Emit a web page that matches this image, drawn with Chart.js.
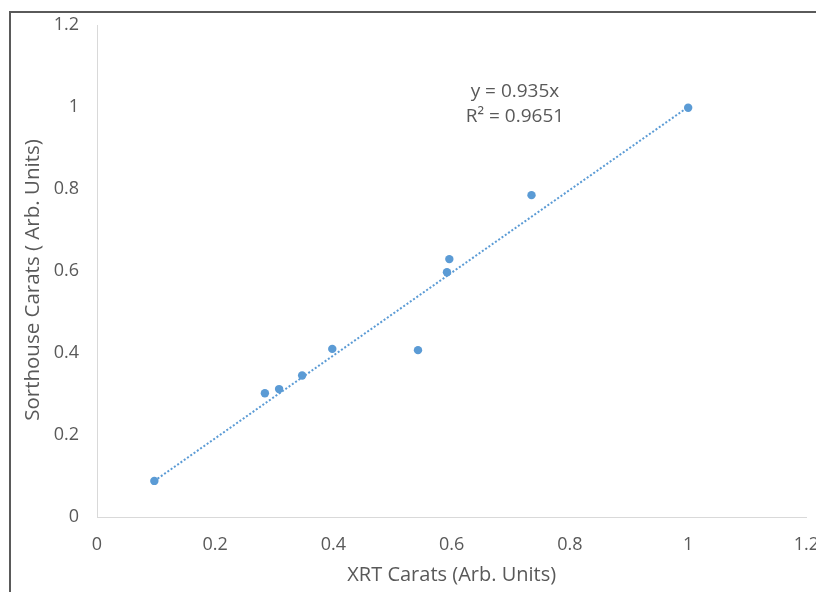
<!DOCTYPE html>
<html><head><meta charset="utf-8">
<script src="https://cdn.jsdelivr.net/npm/chart.js@4.4.0/dist/chart.umd.min.js"></script>
<style>
html,body{margin:0;padding:0;background:#fff;overflow:hidden}
#wrap{position:relative;width:816px;height:592px;overflow:hidden}
#frame{position:absolute;left:9px;top:11px;width:830px;height:600px;border-left:2px solid #5a5a5a;border-top:2px solid #5a5a5a;pointer-events:none}
canvas{position:absolute;left:0;top:0}
</style></head><body>
<div id="wrap"><canvas id="c" width="816" height="592"></canvas><div id="frame"></div></div>
<script>
// Data
const xrtCarats       = [0.097, 0.284, 0.308, 0.347, 0.398, 0.543, 0.592, 0.596, 0.735, 1.000];
const sorthouseCarats = [0.088, 0.302, 0.312, 0.345, 0.410, 0.407, 0.597, 0.629, 0.785, 0.998];
const trendX = [0.097, 1.000];
const trendY = [0.088, 1.000];
const xTicks = [0, 0.2, 0.4, 0.6, 0.8, 1, 1.2];
const xTickLabels = ['0', '0.2', '0.4', '0.6', '0.8', '1', '1.2'];
const yTicks = [0, 0.2, 0.4, 0.6, 0.8, 1, 1.2];
const yTickLabels = ['0', '0.2', '0.4', '0.6', '0.8', '1', '1.2'];
const equationLines = ['y = 0.935x', 'R\u00B2 = 0.9651'];
const xTitle = 'XRT Carats (Arb. Units)';
const yTitle = 'Sorthouse Carats ( Arb. Units)';

const TEXT = '#595959';
const BLUE = '#5b9bd5';
const FONT = '"Open Sans", "DejaVu Sans", sans-serif';

const equationPlugin = {
  id: 'equation',
  afterDatasetsDraw(chart, args, opts) {
    const ctx = chart.ctx;
    const xs = chart.scales.x, ys = chart.scales.y;
    ctx.save();
    ctx.fillStyle = TEXT;
    ctx.font = opts.size + 'px ' + FONT;
    ctx.textAlign = 'center';
    ctx.textBaseline = 'alphabetic';
    const cx = xs.getPixelForValue(opts.xValue);
    const y0 = ys.getPixelForValue(opts.yValue);
    equationLines.forEach((t, i) => ctx.fillText(t, cx, y0 + i * opts.lineGap));
    ctx.restore();
  }
};

const yTitlePlugin = {
  id: 'yTitle',
  afterDraw(chart, args, opts) {
    const ctx = chart.ctx;
    const ys = chart.scales.y;
    ctx.save();
    ctx.fillStyle = TEXT;
    ctx.font = opts.size + 'px ' + FONT;
    ctx.textAlign = 'center';
    ctx.textBaseline = 'middle';
    ctx.translate(opts.x, ys.getPixelForValue(opts.yValue));
    ctx.rotate(-Math.PI / 2);
    ctx.fillText(yTitle, 0, 0);
    ctx.restore();
  }
};

const pointData = xrtCarats.map((x, i) => ({x: x, y: sorthouseCarats[i]}));
const trendData = trendX.map((x, i) => ({x: x, y: trendY[i]}));

new Chart(document.getElementById('c'), {
  type: 'scatter',
  data: {
    datasets: [
      {
        type: 'line',
        label: 'Linear trend',
        data: trendData,
        borderColor: BLUE,
        borderWidth: 2,
        borderDash: [2, 2],
        pointRadius: 0,
        fill: false,
        order: 2
      },
      {
        label: 'Sorthouse vs XRT',
        data: pointData,
        backgroundColor: BLUE,
        borderColor: BLUE,
        pointRadius: 4.2,
        pointBorderWidth: 0,
        order: 1
      }
    ]
  },
  options: {
    responsive: false,
    animation: false,
    devicePixelRatio: 1,
    layout: {padding: {left: 0, right: 9.6, top: 25, bottom: 0}},
    plugins: {
      legend: {display: false},
      tooltip: {enabled: false},
      equation: {xValue: 0.707, yValue: 1.024, lineGap: 25, size: 19},
      yTitle: {x: 33, yValue: 0.578, size: 20.5}
    },
    scales: {
      x: {
        type: 'linear',
        min: 0, max: 1.2,
        afterBuildTicks: s => { s.ticks = xTicks.map(v => ({value: v})); },
        afterFit: s => { s.height = 75; s.paddingLeft = 0; s.paddingRight = 0; },
        grid: {display: false, drawTicks: false},
        border: {display: true, color: '#d9d9d9', width: 1},
        ticks: {
          callback: (v, i) => xTickLabels[i],
          color: TEXT, font: {family: FONT, size: 18},
          padding: 17, maxRotation: 0, autoSkip: false
        },
        title: {
          display: true, text: xTitle, color: TEXT,
          font: {family: FONT, size: 20}, padding: {top: 0, bottom: 5}
        }
      },
      y: {
        type: 'linear',
        min: 0, max: 1.2,
        afterBuildTicks: s => { s.ticks = yTicks.map(v => ({value: v})); },
        afterFit: s => { s.width = 97; s.paddingTop = 0; s.paddingBottom = 0; },
        grid: {display: false, drawTicks: false},
        border: {display: true, color: '#d9d9d9', width: 1},
        ticks: {
          callback: (v, i) => yTickLabels[i],
          color: TEXT, font: {family: FONT, size: 18},
          padding: 18, autoSkip: false
        },
        title: {display: false, text: yTitle}
      }
    }
  },
  plugins: [equationPlugin, yTitlePlugin]
});
</script>
</body></html>
